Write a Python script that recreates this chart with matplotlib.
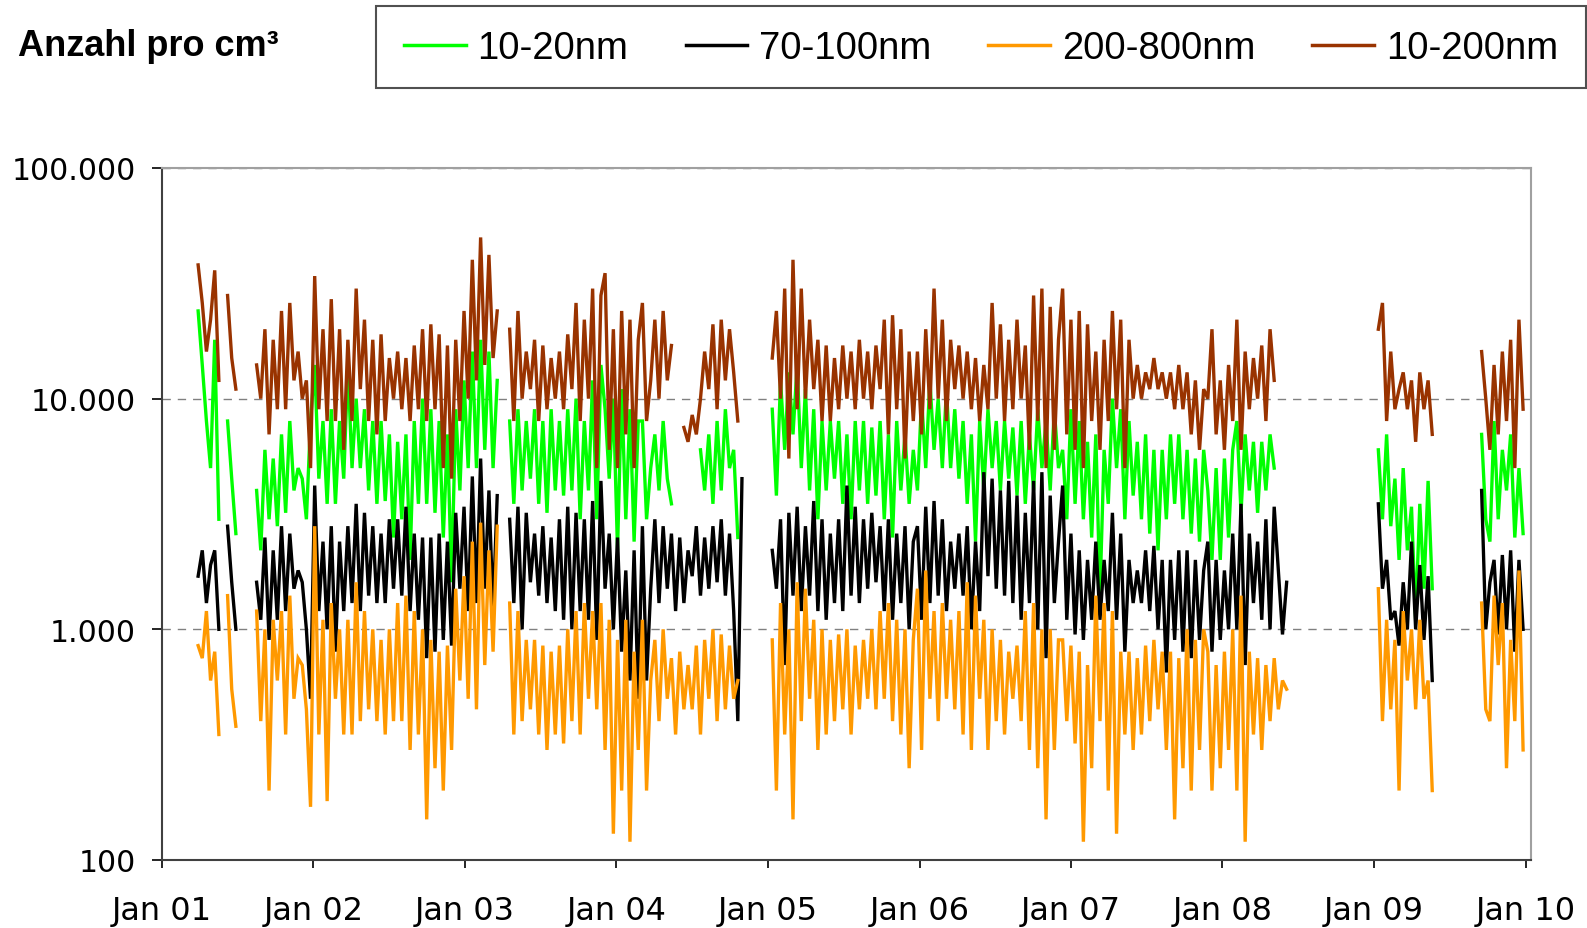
import matplotlib
matplotlib.use("Agg")
import matplotlib.pyplot as plt
import matplotlib.dates as mdates
import numpy as np
import pandas as pd
from matplotlib.lines import Line2D
from matplotlib.patches import Rectangle
from matplotlib.ticker import FixedLocator, FixedFormatter

nan = np.nan

# start of each measuring period; one value every 10 days (Tsd. Partikel pro cm³)
seg_start = ["2001-03-29", "2001-06-08", "2001-08-17",
             "2005-01-11", "2009-01-11", "2009-09-17"]
step_days = 10

labels = ["10-20nm", "70-100nm", "200-800nm", "10-200nm"]
colors = ["#00FF00", "#000000", "#FF9900", "#993300"]

nm_10_20 = [
    [24, 14, 8, 5, 18, 3],
    [8, 4.5, 2.6],
    [4, 2.2, 6, 3, 5.5, 2.8, 7, 3.2, 8, 4, 5, 4.5, 3, 8, 14, 4.5, 8, 3.5, 9, 3.5, 8, 4.5,
     14, 5, 10, 5, 9, 4, 8, 3.5, 8, 3.6, 7, 2.5, 6.5, 3, 7, 2, 8, 3.5, 10, 3.5, 9, 3.2,
     8, 2.5, 7, 1.6, 9, 4, 12, 5, 16, 5, 18, 6, 16, 5,
     12, nan, nan, 8, 3.5, 9, 4, 8, 4.5, 9, 3.5, 8, 3.2, 9, 4, 8, 3.8, 9, 4, 10, 3, 8, 4,
     12, 3, 14, 9, 4.5, 10, 2.2, 11, 3, 9, 2.4, 8,
     8, 3, 5, 7, 4, 8, 4.5, 3.5, nan, nan, nan, nan, nan, nan, 6, 4, 7, 3.5, 8, 4, 9, 5, 6, 2.5],
    [9, 3.8, 12, 6, 13, 7, 14, 5, 11, 4, 9, 3, 8, 4, 8, 4.5, 8, 3.5, 7, 3, 8, 4, 8, 3.5,
     7.5, 3.8, 8, 3, 7, 2.5, 8, 4, 7, 3.5, 6,
     4, 10, 5, 12, 6, 10, 5, 11, 5, 9, 4.5, 8, 3.5, 7, 2.4, 8, 4, 9, 5, 8, 4, 8, 4.5, 7.5,
     3.8, 8, 3.5, 7, 4, 9, 5, 8, 4, 9, 5,
     6, 3, 9, 3.5, 8, 3, 6.5, 2.5, 7, 1.4, 6, 3.5, 10, 5, 9, 3, 8, 3.8, 6.5, 3, 7, 2.6, 6,
     2.2, 6, 3, 7, 3.5, 7, 3, 6, 2.6, 5.5, 2.4, 6,
     4, 2, 5, 2, 5.5, 2.5, 6, 8, 3.2, 7, 4, 6.5, 3.2, 6.5, 4, 7, 5],
    [6, 3, 7, 2.8, 4.5, 2, 5, 2.2, 3.4, 1.1, 3.5, 1.5, 4.4, 1.5],
    [7, 3, 2.4, 8, 3, 6, 4, 7, 2.5, 5, 2.6],
]

nm_70_100 = [
    [1.7, 2.2, 1.3, 1.9, 2.2, 1.0],
    [2.8, 1.6, 1.0],
    [1.6, 1.1, 2.5, 0.9, 2.2, 1.1, 2.8, 1.2, 2.6, 1.5, 1.8, 1.6, 1.0, 0.5, 4.2, 1.2, 2.4,
     1.0, 2.8, 0.8, 2.4, 1.2,
     2.8, 1.3, 3.5, 1.2, 3.2, 1.4, 2.8, 1.3, 2.6, 1.3, 3, 1.5, 3, 1.4, 3.4, 1.2, 2.6, 1.1,
     2.5, 0.75, 2.5, 0.8, 2.6, 0.9, 2.4, 0.85, 3.2, 1.5, 3.4, 1.2, 4.6, 1.3, 5.5, 1.5, 4, 1.2,
     3.8, nan, nan, 3, 1.3, 3.4, 1.0, 3.2, 1.6, 2.6, 1.4, 2.8, 1.3, 2.5, 1.2, 3, 1.1, 3.4,
     1.0, 3.2, 1.2, 3, 1.1, 3.6, 0.9, 4.4, 1.5, 2.6, 1.0, 2.5, 0.8, 1.8, 0.6, 2.2, 0.5,
     2.8, 0.6, 1.5, 3, 1.3, 2.8, 1.5, 2.6, 1.2, 2.5, 1.3, 2.2, 1.7, 2.8, 1.4, 2.5, 1.5, 2.8,
     1.6, 3, 1.4, 2.6, 1.2, 0.4, 4.5],
    [2.2, 1.5, 3, 0.7, 3.2, 1.4, 3.4, 1.2, 2.8, 1.4, 3.6, 1.2, 3, 1.1, 2.6, 1.3, 3, 1.2,
     4.2, 1.4, 3.4, 1.3, 3, 1.5, 3.2, 1.6, 2.8, 1.2, 3, 1.1, 2.6, 1.3, 2.8, 1.0, 2.4,
     2.8, 1.1, 3.4, 1.3, 3.6, 1.4, 3, 1.2, 2.4, 1.5, 2.6, 1.4, 2.8, 1.0, 2.4, 1.2, 4.8, 1.7,
     4.5, 1.5, 4, 1.4, 4.4, 1.3, 3.8, 1.1, 3.2, 1.3, 4.4, 1.0, 4.8, 0.75, 3.8, 1.3, 2.4,
     4.2, 1.1, 2.6, 0.95, 2.2, 0.9, 2.0, 1.1, 2.4, 1.1, 2.0, 1.2, 3.2, 1.1, 2.6, 0.8, 2.0,
     1.3, 1.8, 1.3, 2.2, 1.2, 2.3, 1.0, 2.0, 0.65, 2.0, 0.9, 2.2, 0.8, 2.2, 0.75, 2.0, 0.9, 1.8,
     2.4, 0.8, 2.0, 0.9, 1.8, 1.0, 2.6, 1.0, 3.5, 0.7, 2.6, 1.3, 2.4, 1.1, 3, 1.0, 3.4, 1.8,
     0.95, 1.6],
    [3.5, 1.5, 2.0, 1.1, 1.2, 0.85, 1.6, 1.0, 2.4, 1.0, 1.9, 0.9, 1.7, 0.6],
    [4, 1.0, 1.6, 2.0, 0.95, 2.1, 1.0, 2.2, 0.8, 2.0, 1.0],
]

nm_200_800 = [
    [0.85, 0.75, 1.2, 0.6, 0.8, 0.35],
    [1.4, 0.55, 0.38],
    [1.2, 0.4, 1.0, 0.2, 1.1, 0.6, 1.2, 0.35, 1.4, 0.5, 0.75, 0.7, 0.45, 0.17, 2.8, 0.35,
     1.1, 0.18, 1.3, 0.5, 1.0, 0.35,
     1.1, 0.35, 1.6, 0.4, 1.2, 0.45, 1.0, 0.4, 0.9, 0.35, 1.0, 0.4, 1.3, 0.4, 1.4, 0.3, 1.2,
     0.35, 1.0, 0.15, 0.9, 0.25, 0.8, 0.2, 0.85, 0.3, 1.5, 0.6, 1.7, 0.5, 2.4, 0.45, 2.9,
     0.7, 2.2, 0.8,
     2.8, nan, nan, 1.3, 0.35, 1.2, 0.4, 0.9, 0.45, 0.9, 0.35, 0.85, 0.3, 0.8, 0.35, 0.85,
     0.32, 1.0, 0.4, 1.2, 0.35, 1.3, 0.5, 1.2, 0.45, 1.3, 0.3, 1.1, 0.13, 0.9, 0.2, 1.1,
     0.12, 0.8, 0.3,
     1.1, 0.2, 0.6, 0.9, 0.4, 1.0, 0.5, 0.75, 0.35, 0.8, 0.45, 0.7, 0.45, 0.85, 0.35, 0.9,
     0.5, 1.0, 0.4, 0.95, 0.45, 0.85, 0.5, 0.6],
    [0.9, 0.2, 1.3, 0.35, 1.0, 0.15, 1.6, 0.4, 1.5, 0.5, 1.1, 0.3, 1.0, 0.35, 0.9, 0.4,
     0.95, 0.45, 1.0, 0.35, 0.85, 0.45, 0.9, 0.5, 1.0, 0.45, 1.2, 0.5, 1.3, 0.4, 1.1, 0.35,
     1.0, 0.25, 0.9,
     1.5, 0.3, 1.8, 0.5, 1.2, 0.4, 1.3, 0.5, 1.1, 0.45, 1.2, 0.35, 1.6, 0.3, 1.4, 0.5, 1.1,
     0.3, 1.0, 0.4, 0.9, 0.35, 0.8, 0.5, 0.85, 0.4, 1.2, 0.3, 1.3, 0.25, 1.0, 0.15, 1.0,
     0.3, 0.9,
     0.9, 0.4, 0.85, 0.32, 0.8, 0.12, 0.7, 0.25, 1.4, 0.4, 1.3, 0.2, 1.2, 0.13, 0.8, 0.35,
     0.8, 0.3, 0.75, 0.35, 0.85, 0.4, 0.9, 0.45, 0.8, 0.3, 0.8, 0.15, 0.75, 0.25, 1.0, 0.2,
     0.9, 0.3, 1.0,
     0.8, 0.2, 0.7, 0.25, 0.8, 0.3, 1.0, 0.2, 1.4, 0.12, 0.8, 0.35, 0.75, 0.3, 0.7, 0.4,
     0.75, 0.45, 0.6, 0.55],
    [1.5, 0.4, 1.1, 0.45, 0.9, 0.2, 1.2, 0.6, 1.0, 0.45, 1.1, 0.5, 0.6, 0.2],
    [1.3, 0.45, 0.4, 1.4, 0.7, 1.3, 0.25, 0.9, 0.4, 1.8, 0.3],
]

nm_10_200 = [
    [38, 26, 16, 22, 36, 12],
    [28, 15, 11],
    [14, 10, 20, 7, 18, 9, 24, 9, 26, 12, 16, 10, 12, 5, 34, 9, 20, 8, 27, 8, 20, 6,
     18, 8, 30, 11, 22, 8, 18, 7, 19, 8, 15, 10, 16, 9, 15, 8, 17, 9, 20, 8, 21, 9, 19, 5,
     17, 4.5, 18, 8, 24, 10, 40, 12, 50, 14, 42, 15,
     24, nan, nan, 20, 8, 24, 10, 16, 11, 18, 8, 17, 9, 15, 10, 16, 9, 19, 11, 26, 8, 22,
     10, 30, 5, 28, 35, 6, 20, 5, 24, 7, 22, 5, 18,
     26, 8, 12, 22, 10, 24, 12, 17, nan, nan, 7.5, 6.5, 8.5, 7, 10, 16, 11, 21, 9, 22, 12,
     20, 13, 8],
    [15, 24, 10, 30, 5.5, 40, 9, 30, 10, 22, 11, 18, 8, 17, 8, 15, 9, 17, 10, 16, 9, 18,
     10, 16, 9, 17, 11, 22, 7, 23, 9, 20, 5.5, 16, 8,
     16, 7, 20, 9, 30, 10, 22, 8, 18, 11, 17, 10, 16, 9, 15, 8, 14, 9, 26, 10, 21, 8, 18,
     9, 22, 10, 17, 6, 28, 8, 30, 5, 25, 6, 18,
     30, 7, 22, 6, 24, 5, 21, 8, 16, 6, 18, 8, 24, 9, 22, 5, 18, 10, 14, 10, 13, 11, 15,
     11, 13, 10, 13, 9, 14, 9, 13, 7, 12, 6, 11,
     10, 20, 7, 12, 6, 14, 8, 22, 6, 16, 9, 15, 10, 17, 8, 20, 12],
    [20, 26, 8, 16, 9, 11, 13, 9, 12, 6.5, 13, 9, 12, 7],
    [16, 10, 6, 14, 7, 16, 8, 18, 5, 22, 9],
]

series = [nm_10_20, nm_70_100, nm_200_800, nm_10_200]

fig = plt.figure(figsize=(15.87, 9.29), dpi=100)
ax = fig.add_axes([0.1021, 0.0732, 0.8626, 0.7449])

for segs, color in zip(series, colors):
    for start, vals in zip(seg_start, segs):
        dates = pd.date_range(start, periods=len(vals), freq=f"{step_days}D")
        ax.plot(dates, np.array(vals, dtype=float) * 1000, color=color, lw=2.4,
                solid_joinstyle="miter", zorder=3)

ax.set_yscale("log")
ax.set_ylim(100, 100000)
ax.yaxis.set_major_locator(FixedLocator([100, 1000, 10000, 100000]))
ax.yaxis.set_major_formatter(FixedFormatter(["100", "1.000", "10.000", "100.000"]))
ax.yaxis.set_minor_locator(FixedLocator([]))
ax.grid(axis="y", which="major", color="#808080", ls=(0, (6, 5)), lw=1.0)
ax.set_axisbelow(True)

ax.set_xlim(pd.Timestamp("2001-01-01"), pd.Timestamp("2010-01-14"))
ax.xaxis.set_major_locator(mdates.YearLocator())
ax.xaxis.set_major_formatter(mdates.DateFormatter("%b %y"))

ax.tick_params(axis="y", direction="out", length=7, width=1.2, pad=12,
               labelsize=21.5, colors="#000000")
ax.tick_params(axis="x", direction="out", length=6, width=1.2, pad=19,
               labelsize=23)

for side in ["left", "bottom"]:
    ax.spines[side].set_color("#404040")
    ax.spines[side].set_linewidth(1.5)
for side in ["top", "right"]:
    ax.spines[side].set_color("#a0a0a0")
    ax.spines[side].set_linewidth(1.5)

fig.text(18 / 1587, 1 - 47 / 929, "Anzahl pro cm³", fontsize=26, fontweight="bold",
         family=["Liberation Sans", "DejaVu Sans"], ha="left", va="center")

# legend frame
fig.patches.append(Rectangle((376 / 1587, 1 - 89 / 929), (1587 - 377) / 1587, 82 / 929,
                             transform=fig.transFigure, fill=False,
                             edgecolor="#505050", lw=1.5))
handles = [Line2D([], [], color=c, lw=2.5) for c in colors]
fig.legend(handles, labels, ncol=4, loc="center left",
           bbox_to_anchor=(404 / 1587, 1 - 49 / 929), frameon=False,
           prop={"family": "Liberation Sans", "size": 27.5},
           handlelength=1.62, handletextpad=0.3, columnspacing=1.5,
           borderpad=0, borderaxespad=0)

fig.savefig("out.png", dpi=100)
